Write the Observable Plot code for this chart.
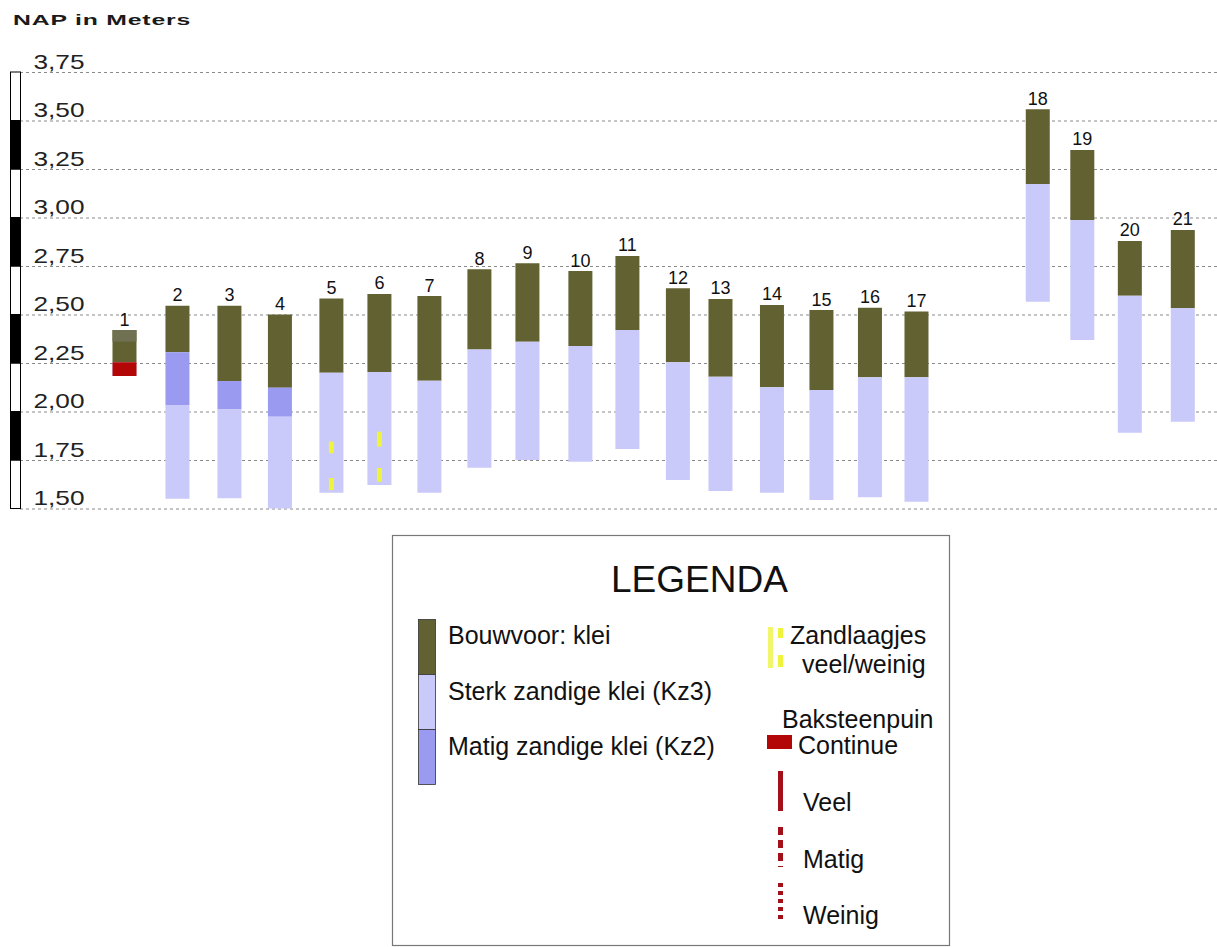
<!DOCTYPE html>
<html>
<head>
<meta charset="utf-8">
<script src="https://cdn.jsdelivr.net/npm/d3@7"></script>
<script src="https://cdn.jsdelivr.net/npm/@observablehq/plot@0.6"></script>
<style>
  body { margin: 0; background: #fff; font-family: "Liberation Sans", Arial, Helvetica, sans-serif; }
  #wrap { position: relative; width: 1217px; height: 947px; overflow: hidden; background: #fff; }
  #title { position: absolute; left: 13px; top: 13px; font-size: 15px; line-height: 14px; font-weight: bold;
           color: #1a1a1a; letter-spacing: 0.5px; transform: scaleX(1.65); transform-origin: left center; white-space: nowrap; }
  #chart { position: absolute; left: 0; top: 32px; }
  #legend { position: absolute; left: 0; top: 530px; }
</style>
</head>
<body>
<div id="wrap">
  <div id="title">NAP in Meters</div>
  <div id="chart"></div>
  <svg id="legend" width="1217" height="417"></svg>
</div>
<script>
// ---------- data ----------
const boring = [1, 2, 3, 4, 5, 6, 7, 8, 9, 10, 11, 12, 13, 14, 15, 16, 17, 18, 19, 20, 21];
// position along the section (relative units)
const afstand = [1, 2.07, 3.12, 4.14, 5.18, 6.15, 7.16, 8.17, 9.14, 10.21, 11.16, 12.18, 13.04, 14.08, 15.08, 16.06, 17.0, 19.45, 20.35, 21.31, 22.38];
// NAP levels in meters
const maaiveld      = [2.42, 2.545, 2.545, 2.50, 2.583, 2.606, 2.595, 2.733, 2.764, 2.724, 2.802, 2.635, 2.58, 2.549, 2.523, 2.535, 2.515, 3.558, 3.348, 2.879, 2.936];
const bouwvoorBasis = [2.254, 2.305, 2.157, 2.123, 2.20, 2.204, 2.159, 2.32, 2.36, 2.338, 2.42, 2.254, 2.179, 2.125, 2.111, 2.176, 2.176, 3.173, 2.987, 2.597, 2.532];
const kz2Basis      = [null, 2.034, 2.011, 1.973, null, null, null, null, null, null, null, null, null, null, null, null, null, null, null, null, null];
const einddiepte    = [2.183, 1.55, 1.553, 1.50, 1.581, 1.621, 1.581, 1.71, 1.75, 1.741, 1.807, 1.647, 1.59, 1.581, 1.544, 1.558, 1.535, 2.566, 2.369, 1.891, 1.947];

// top band of boring 1
const zodeBoring = [1];
const zodeTop = [2.42];
const zodeBasis = [2.36];

// baksteenpuin (continue)
const puinBoring = [1];
const puinTop = [2.254];
const puinBasis = [2.183];

// zandlaagjes
const zandBoring = [5, 5, 6, 6];
const zandTop = [1.845, 1.657, 1.896, 1.709];
const zandBasis = [1.785, 1.595, 1.819, 1.638];

// axis
const tickValues = [1.50, 1.75, 2.00, 2.25, 2.50, 2.75, 3.00, 3.25, 3.50, 3.75];
const tickLabels = ["1,50", "1,75", "2,00", "2,25", "2,50", "2,75", "3,00", "3,25", "3,50", "3,75"];

// legend
const legendTitle = "LEGENDA";
const soilLabels = ["Bouwvoor: klei", "Sterk zandige klei (Kz3)", "Matig zandige klei (Kz2)"];
const sandLabels = ["Zandlaagjes", "veel/weinig"];
const brickTitle = "Baksteenpuin";
const brickLabels = ["Continue", "Veel", "Matig", "Weinig"];

// ---------- styles ----------
const C = {
  bouwvoor: "#616131",
  kz3: "#c9c9fa",
  kz2: "#9a9af0",
  zode: "#6f7152",
  puin: "#b30606",
  puinLine: "#a3101a",
  zand: "#eef43c"
};

// ---------- derived tables ----------
const xOf = Object.fromEntries(boring.map((b, i) => [b, afstand[i]]));
const layers = [];
boring.forEach((b, i) => {
  layers.push({x: afstand[i], y1: maaiveld[i], y2: bouwvoorBasis[i], soil: "bouwvoor"});
  let t = bouwvoorBasis[i];
  if (kz2Basis[i] != null) { layers.push({x: afstand[i], y1: t, y2: kz2Basis[i], soil: "kz2"}); t = kz2Basis[i]; }
  if (einddiepte[i] < t) layers.push({x: afstand[i], y1: t, y2: einddiepte[i], soil: "kz3"});
});
const zode = zodeBoring.map((b, i) => ({x: xOf[b], y1: zodeTop[i], y2: zodeBasis[i]}));
const puin = puinBoring.map((b, i) => ({x: xOf[b], y1: puinTop[i], y2: puinBasis[i]}));
const zand = zandBoring.map((b, i) => ({x: xOf[b], y1: zandTop[i], y2: zandBasis[i]}));
const labels = boring.map((b, i) => ({x: afstand[i], y: maaiveld[i], t: String(b)}));
const ticks = tickValues.map((v, i) => ({v, label: tickLabels[i]}));
const segments = tickValues.slice(0, -1).map((v, i) => ({y1: v, y2: tickValues[i + 1], fill: i % 2 === 0 ? "#ffffff" : "#000000"}));

const W = 1217, H = 495;
const plot = Plot.plot({
  width: W, height: H,
  marginLeft: 0, marginRight: 0, marginTop: 0, marginBottom: 0,
  style: {fontFamily: "Liberation Sans, Arial, Helvetica, sans-serif", background: "transparent"},
  x: {type: "linear", domain: [-1.505, 23.081], range: [0, W], axis: null},
  y: {type: "linear", domain: [1.5, 3.75], range: [476.5, 40], axis: null},
  marks: [
    Plot.ruleY(ticks, {y: "v", stroke: "#8a8a8a", strokeWidth: 1, strokeDasharray: "3,3", insetLeft: 20}),
    Plot.rect(segments, {y1: "y1", y2: "y2", fill: d => d.fill, stroke: "#000", strokeWidth: 1, insetLeft: 10.5, insetRight: W - 20.5}),
    Plot.text(ticks, {y: "v", text: "label", frameAnchor: "left", dx: 33, dy: -4, lineAnchor: "bottom", textAnchor: "start", fontSize: 21, fill: "#222"}),
    Plot.ruleX(layers, {x: "x", y1: "y1", y2: "y2", stroke: d => C[d.soil], strokeWidth: 24}),
    Plot.ruleX(zode, {x: "x", y1: "y1", y2: "y2", stroke: C.zode, strokeWidth: 24}),
    Plot.ruleX(puin, {x: "x", y1: "y1", y2: "y2", stroke: C.puin, strokeWidth: 24}),
    Plot.ruleX(zand, {x: "x", y1: "y1", y2: "y2", stroke: C.zand, strokeWidth: 5}),
    Plot.text(labels, {x: "x", y: "y", text: "t", dy: -5, lineAnchor: "bottom", fontSize: 18, fill: "#111"})
  ]
});
document.getElementById("chart").appendChild(plot);
// widen the axis labels like the original lettering
d3.select(plot).selectAll("text").each(function () {
  if (tickLabels.includes(this.textContent)) {
    d3.select(this).attr("textLength", 51).attr("lengthAdjust", "spacingAndGlyphs");
  }
});

// ---------- legend ----------
const L = d3.select("#legend");
const oy = 530;
const font = "Liberation Sans, Arial, Helvetica, sans-serif";
const fs = 25;
L.append("rect").attr("x", 392.5).attr("y", 535.5 - oy).attr("width", 557).attr("height", 410)
  .attr("fill", "#fff").attr("stroke", "#777").attr("stroke-width", 1.2);
L.append("text").attr("x", 611).attr("y", 592 - oy).attr("font-size", 37).attr("font-family", font).attr("fill", "#111").text(legendTitle);

const swatchColors = [C.bouwvoor, C.kz3, C.kz2];
const swTop = [619, 674, 729];
const swBase = [644, 700, 755];
soilLabels.forEach((s, i) => {
  L.append("rect").attr("x", 418.5).attr("y", swTop[i] - oy + 0.5).attr("width", 17).attr("height", 55)
    .attr("fill", swatchColors[i]).attr("stroke", "#333").attr("stroke-width", 0.8);
  L.append("text").attr("x", 448).attr("y", swBase[i] - oy).attr("font-size", fs).attr("font-family", font).attr("fill", "#111").text(s);
});

// sand
L.append("rect").attr("x", 768).attr("y", 627 - oy).attr("width", 5).attr("height", 41).attr("fill", "#f2f66a");
L.append("rect").attr("x", 778).attr("y", 628 - oy).attr("width", 5).attr("height", 10).attr("fill", C.zand);
L.append("rect").attr("x", 778).attr("y", 655 - oy).attr("width", 5).attr("height", 12).attr("fill", C.zand);
L.append("text").attr("x", 790).attr("y", 644 - oy).attr("font-size", fs).attr("font-family", font).attr("fill", "#111").text(sandLabels[0]);
L.append("text").attr("x", 802).attr("y", 673 - oy).attr("font-size", fs).attr("font-family", font).attr("fill", "#111").text(sandLabels[1]);

// brick
L.append("text").attr("x", 782).attr("y", 728 - oy).attr("font-size", fs).attr("font-family", font).attr("fill", "#111").text(brickTitle);
L.append("rect").attr("x", 767).attr("y", 735 - oy).attr("width", 25).attr("height", 14).attr("fill", C.puin);
L.append("text").attr("x", 798).attr("y", 754 - oy).attr("font-size", fs).attr("font-family", font).attr("fill", "#111").text(brickLabels[0]);
const lineTop = [771, 827, 883];
const lineBot = [811, 867, 922];
const dash = [null, "8,5", "4,4"];
const lineBase = [811, 868, 924];
[1, 2, 3].forEach((k, j) => {
  const ln = L.append("line").attr("x1", 780.5).attr("x2", 780.5).attr("y1", lineTop[j] - oy).attr("y2", lineBot[j] - oy)
    .attr("stroke", C.puinLine).attr("stroke-width", 5);
  if (dash[j]) ln.attr("stroke-dasharray", dash[j]);
  L.append("text").attr("x", 803).attr("y", lineBase[j] - oy).attr("font-size", fs).attr("font-family", font).attr("fill", "#111").text(brickLabels[k]);
});
</script>
</body>
</html>
